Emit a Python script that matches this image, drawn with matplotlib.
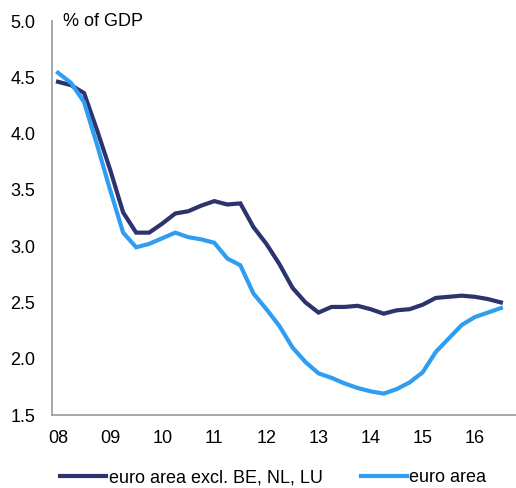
import numpy as np
import matplotlib
matplotlib.use("Agg")
import matplotlib.pyplot as plt

plt.rcParams['font.family'] = ['Liberation Sans', 'DejaVu Sans']

# quarterly, 2008Q1 .. 2016Q3
start_year = 2008
excl_be_nl_lu = [4.46, 4.43, 4.36, 4.03, 3.68, 3.30, 3.12, 3.12, 3.20, 3.29,
                 3.31, 3.36, 3.40, 3.37, 3.38, 3.17, 3.02, 2.84, 2.63, 2.50,
                 2.41, 2.46, 2.46, 2.47, 2.44, 2.40, 2.43, 2.44, 2.48, 2.54,
                 2.55, 2.56, 2.55, 2.53, 2.50]
euro_area = [4.54, 4.45, 4.28, 3.90, 3.50, 3.12, 2.99, 3.02, 3.07, 3.12,
             3.08, 3.06, 3.03, 2.89, 2.83, 2.58, 2.44, 2.29, 2.10, 1.97,
             1.87, 1.83, 1.78, 1.74, 1.71, 1.69, 1.73, 1.79, 1.88, 2.06,
             2.18, 2.30, 2.37, 2.41, 2.45]
year_labels = ['08', '09', '10', '11', '12', '13', '14', '15', '16']
y_ticks = [1.5, 2.0, 2.5, 3.0, 3.5, 4.0, 4.5, 5.0]

dark = '#2C346E'
light = '#2F9DF2'
grey = '#999999'
fs = 13

t = start_year + np.arange(len(euro_area)) / 4.0

fig = plt.figure(figsize=(5.16, 4.88), dpi=100)
ax = fig.add_axes([52 / 516, 73 / 488, 1 - 52 / 516, (415 - 21) / 488])

ax.plot(t, excl_be_nl_lu, color=dark, lw=3, solid_joinstyle='miter',
        label='euro area excl. BE, NL, LU')
ax.plot(t, euro_area, color=light, lw=3, solid_joinstyle='miter',
        label='euro area')

ax.set_ylim(1.5, 5.0)
ax.set_xlim(2007.885, 2016.79)
ax.set_yticks(y_ticks)
ax.set_yticklabels(['%.1f' % v for v in y_ticks])
years = np.arange(start_year, start_year + len(year_labels))
ax.set_xticks(years)
ax.set_xticklabels(year_labels)
ax.tick_params(length=0, labelsize=fs, colors='black')
ax.tick_params(axis='y', pad=12)
ax.tick_params(axis='x', pad=11)

for s in ['top', 'right']:
    ax.spines[s].set_visible(False)
for s in ['left', 'bottom']:
    ax.spines[s].set_color(grey)
    ax.spines[s].set_linewidth(1.2)

fig.text(63 / 516, 1 - 21 / 488, '% of GDP', fontsize=fs, va='center', ha='left')

fig.legend(loc='center left', bbox_to_anchor=(60 / 516, 1 - 478 / 488), ncol=2,
           frameon=False, fontsize=fs, handlelength=2.55, handletextpad=0.15,
           columnspacing=2.1, borderaxespad=0, borderpad=0)

fig.savefig('out.png', dpi=100)
